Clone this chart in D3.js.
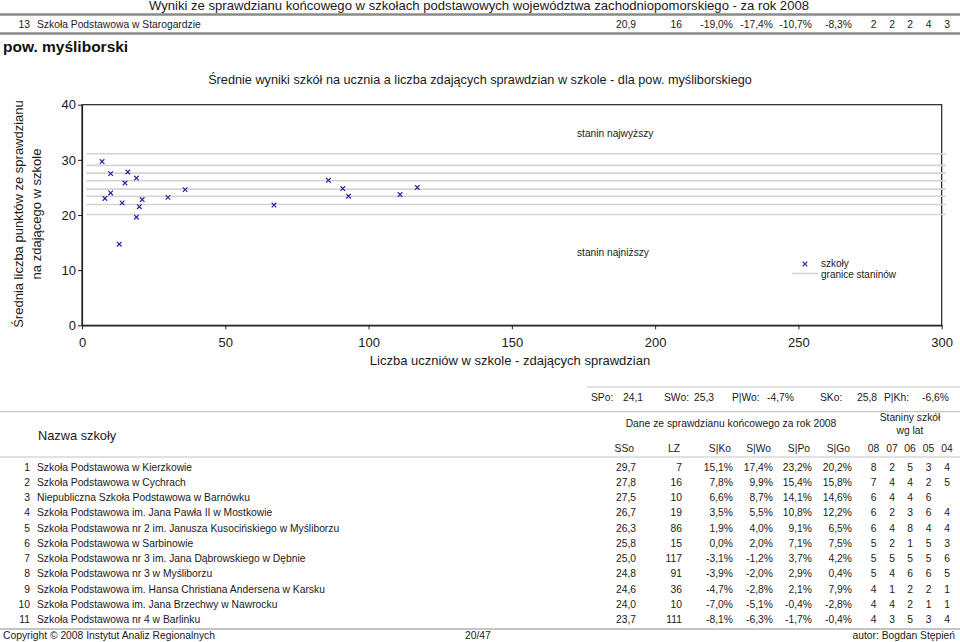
<!DOCTYPE html>
<html>
<head>
<meta charset="utf-8">
<script src="https://cdn.jsdelivr.net/npm/d3@7"></script>
<style>
  html, body { margin: 0; padding: 0; background: #fff; }
  svg { display: block; font-family: "Liberation Sans", Arial, Helvetica, sans-serif; }
</style>
</head>
<body>
<svg id="chart" width="960" height="642"></svg>
<script>
// ---------- data ----------
const pageTitle = "Wyniki ze sprawdzianu końcowego w szkołach podstawowych województwa zachodniopomorskiego - za rok 2008";
const prevRow = { nr: 13, name: "Szkoła Podstawowa w Starogardzie", sso: 20.9, lz: 16, sko: -19.0, swo: -17.4, spo: -10.7, sgo: -8.3, stan: [2, 2, 2, 4, 3] };
const countyName = "pow. myśliborski";
const chartTitle = "Średnie wyniki szkół na ucznia a liczba zdających sprawdzian w szkole - dla pow. myśliborskiego";
const xTitle = "Liczba uczniów w szkole - zdających sprawdzian";
const yTitleLines = ["Średnia liczba punktów ze sprawdzianu", "na zdającego w szkole"];
const xTicks = [0, 50, 100, 150, 200, 250, 300];
const yTicks = [0, 10, 20, 30, 40];

// scatter: number of pupils (x) and mean score (y) of each school of the county
const pointsX = [7, 16, 10, 19, 86, 15, 117, 91, 36, 10, 111, 30, 93, 8, 21, 14, 67, 20, 19, 13];
const pointsY = [29.7, 27.8, 27.5, 26.7, 26.3, 25.8, 25.0, 24.8, 24.6, 24.0, 23.7, 23.2, 23.4, 23.0, 22.8, 22.2, 21.8, 21.5, 19.6, 14.7];
// stanine borders
const stanineBorders = [20.1, 21.9, 23.4, 24.7, 26.2, 27.6, 29.0, 31.1];
const legendLabels = ["szkoły", "granice staninów"];
const stanineLabels = ["stanin najwyższy", "stanin najniższy"];

// summary row
const summaryLabels = ["SPo:", "SWo:", "P|Wo:", "SKo:", "P|Kh:"];
const summaryValues = ["24,1", "25,3", "-4,7%", "25,8", "-6,6%"];

// table
const colHeaders = ["SSo", "LZ", "S|Ko", "S|Wo", "S|Po", "S|Go"];
const yearHeaders = ["08", "07", "06", "05", "04"];
const schoolNames = [
  "Szkoła Podstawowa w Kierzkowie",
  "Szkoła Podstawowa w Cychrach",
  "Niepubliczna Szkoła Podstawowa w Barnówku",
  "Szkoła Podstawowa im. Jana Pawła II w Mostkowie",
  "Szkoła Podstawowa nr 2 im. Janusza Kusocińskiego w Myśliborzu",
  "Szkoła Podstawowa w Sarbinowie",
  "Szkoła Podstawowa nr 3 im. Jana Dąbrowskiego w Dębnie",
  "Szkoła Podstawowa nr 3 w Myśliborzu",
  "Szkoła Podstawowa im. Hansa Christiana Andersena w Karsku",
  "Szkoła Podstawowa im. Jana Brzechwy w Nawrocku",
  "Szkoła Podstawowa nr 4 w Barlinku"
];
const sso = [29.7, 27.8, 27.5, 26.7, 26.3, 25.8, 25.0, 24.8, 24.6, 24.0, 23.7];
const lz = [7, 16, 10, 19, 86, 15, 117, 91, 36, 10, 111];
const sko = [15.1, 7.8, 6.6, 3.5, 1.9, 0.0, -3.1, -3.9, -4.7, -7.0, -8.1];
const swo = [17.4, 9.9, 8.7, 5.5, 4.0, 2.0, -1.2, -2.0, -2.8, -5.1, -6.3];
const spo = [23.2, 15.4, 14.1, 10.8, 9.1, 7.1, 3.7, 2.9, 2.1, -0.4, -1.7];
const sgo = [20.2, 15.8, 14.6, 12.2, 6.5, 7.5, 4.2, 0.4, 7.9, -2.8, -0.4];
const staniny = [
  [8, 2, 5, 3, 4], [7, 4, 4, 2, 5], [6, 4, 4, 6, null], [6, 2, 3, 6, 4], [6, 4, 8, 4, 4],
  [5, 2, 1, 5, 3], [5, 5, 5, 5, 6], [5, 4, 6, 6, 5], [4, 1, 2, 2, 1], [4, 4, 2, 1, 1], [4, 3, 5, 3, 4]
];
const footerLeft = "Copyright © 2008 Instytut Analiz Regionalnych";
const footerMid = "20/47";
const footerRight = "autor: Bogdan Stępień";

// ---------- helpers ----------
const f1 = v => d3.format(".1f")(v).replace(".", ",").replace("−", "-");
const fp = v => f1(v) + "%";
const textCol = "#1a1a1a";
const tfs = 10.3; // table font size

const svg = d3.select("#chart");

// ---------- page header ----------
svg.append("text").attr("x", 479).attr("y", 10).attr("text-anchor", "middle")
  .attr("font-size", 13.1).attr("fill", textCol).text(pageTitle);
svg.append("line").attr("x1", 0).attr("x2", 960).attr("y1", 14.5).attr("y2", 14.5)
  .attr("stroke", "#8a8a8a").attr("stroke-width", 2.5);
svg.append("line").attr("x1", 0).attr("x2", 960).attr("y1", 33.5).attr("y2", 33.5)
  .attr("stroke", "#8a8a8a").attr("stroke-width", 2.5);

// columns (right edges for numbers, centers for staniny)
const colX = [636, 682, 733, 773, 812, 852];
const stanX = [873.5, 892, 910, 928.5, 947];

function drawRow(g, y, nr, name, vals, stan) {
  g.append("text").attr("x", 30).attr("y", y).attr("text-anchor", "end").text(nr);
  g.append("text").attr("x", 37).attr("y", y).text(name);
  vals.forEach((v, i) => g.append("text").attr("x", colX[i]).attr("y", y).attr("text-anchor", "end").text(v));
  stan.forEach((s, i) => { if (s != null) g.append("text").attr("x", stanX[i]).attr("y", y).attr("text-anchor", "middle").text(s); });
}

const topRow = svg.append("g").attr("font-size", tfs).attr("fill", textCol);
drawRow(topRow, 28, prevRow.nr, prevRow.name,
  [f1(prevRow.sso), prevRow.lz, fp(prevRow.sko), fp(prevRow.swo), fp(prevRow.spo), fp(prevRow.sgo)], prevRow.stan);

svg.append("text").attr("x", 3).attr("y", 52).attr("font-size", 15.5).attr("font-weight", "bold")
  .attr("fill", "#111").text(countyName);

// ---------- chart ----------
svg.append("text").attr("x", 480).attr("y", 84).attr("text-anchor", "middle")
  .attr("font-size", 12.7).attr("fill", textCol).text(chartTitle);

const x = d3.scaleLinear().domain([0, 300]).range([82, 941.7]);
const y = d3.scaleLinear().domain([0, 40]).range([325.3, 104.7]);

const plot = svg.append("g");
// frame
plot.append("rect").attr("x", x(0)).attr("y", y(40)).attr("width", x(300) - x(0)).attr("height", y(0) - y(40))
  .attr("fill", "none").attr("stroke", "#222").attr("stroke-width", 1.2);

// stanine borders
plot.selectAll("line.stan").data(stanineBorders).enter().append("line")
  .attr("class", "stan").attr("x1", x(1.5)).attr("x2", x(301.5))
  .attr("y1", d => y(d)).attr("y2", d => y(d))
  .attr("stroke", "#d4d4d4").attr("stroke-width", 1.6);

// axes
const xAxis = svg.append("g").attr("transform", `translate(0,${y(0)})`)
  .call(d3.axisBottom(x).tickValues(xTicks).tickSize(4).tickPadding(8).tickSizeOuter(0));
const yAxis = svg.append("g").attr("transform", `translate(${x(0)},0)`)
  .call(d3.axisLeft(y).tickValues(yTicks).tickSize(4).tickPadding(2).tickSizeOuter(0));
[xAxis, yAxis].forEach(a => {
  a.select(".domain").attr("stroke", "#222").attr("stroke-width", 1.2);
  a.selectAll(".tick line").attr("stroke", "#222");
  a.selectAll("text").attr("font-size", 13).attr("fill", textCol)
    .attr("font-family", "Liberation Sans, Arial, sans-serif");
});

// axis titles
svg.append("text").attr("x", 510).attr("y", 365).attr("text-anchor", "middle")
  .attr("font-size", 13).attr("fill", textCol).text(xTitle);
yTitleLines.forEach((t, i) => {
  svg.append("text").attr("transform", `translate(${23 + i * 17.5},214) rotate(-90)`)
    .attr("text-anchor", "middle").attr("font-size", 13).attr("fill", textCol).text(t);
});

// points
const mark = (g, cx, cy, r) => g.append("path")
  .attr("d", `M${cx - r},${cy - r}L${cx + r},${cy + r}M${cx - r},${cy + r}L${cx + r},${cy - r}`)
  .attr("stroke", "#2424a8").attr("stroke-width", 1.2).attr("fill", "none");
pointsX.forEach((px, i) => mark(plot, x(px), y(pointsY[i]), 2.3));

// stanine labels
svg.append("text").attr("x", 577).attr("y", 137).attr("font-size", 10.2).attr("fill", textCol).text(stanineLabels[0]);
svg.append("text").attr("x", 577).attr("y", 256).attr("font-size", 10.2).attr("fill", textCol).text(stanineLabels[1]);

// legend
mark(svg, 805, 264, 2.3);
svg.append("text").attr("x", 821).attr("y", 267).attr("font-size", 10).attr("fill", textCol).text(legendLabels[0]);
svg.append("line").attr("x1", 792).attr("x2", 818).attr("y1", 273.5).attr("y2", 273.5)
  .attr("stroke", "#d4d4d4").attr("stroke-width", 1.6);
svg.append("text").attr("x", 821).attr("y", 277.5).attr("font-size", 10).attr("fill", textCol).text(legendLabels[1]);

// ---------- summary row ----------
svg.append("line").attr("x1", 587).attr("x2", 960).attr("y1", 387).attr("y2", 387)
  .attr("stroke", "#c4c4c4").attr("stroke-width", 1.2);
const sumLabelX = [591, 664, 732, 820, 884];
const sumValX = [623, 694, 767, 857, 922];
const sumG = svg.append("g").attr("font-size", tfs).attr("fill", textCol);
summaryLabels.forEach((l, i) => {
  sumG.append("text").attr("x", sumLabelX[i]).attr("y", 401).text(l);
  sumG.append("text").attr("x", sumValX[i]).attr("y", 401).text(summaryValues[i]);
});

// ---------- table ----------
[411.7, 457].forEach(yy => svg.append("line").attr("x1", 0).attr("x2", 960).attr("y1", yy).attr("y2", yy)
  .attr("stroke", "#c4c4c4").attr("stroke-width", 1.2));
svg.append("line").attr("x1", 0).attr("x2", 960).attr("y1", 629).attr("y2", 629)
  .attr("stroke", "#b0b0b0").attr("stroke-width", 1.4);

const head = svg.append("g").attr("fill", textCol);
head.append("text").attr("x", 38).attr("y", 440).attr("font-size", 12.8).text("Nazwa szkoły");
head.append("text").attr("x", 731).attr("y", 427).attr("font-size", tfs).attr("text-anchor", "middle")
  .text("Dane ze sprawdzianu końcowego za rok 2008");
head.append("text").attr("x", 910).attr("y", 421).attr("font-size", tfs).attr("text-anchor", "middle").text("Staniny szkół");
head.append("text").attr("x", 910).attr("y", 434).attr("font-size", tfs).attr("text-anchor", "middle").text("wg lat");
colHeaders.forEach((h, i) => head.append("text").attr("x", colX[i] - 2).attr("y", 452).attr("font-size", tfs)
  .attr("text-anchor", "end").text(h));
yearHeaders.forEach((h, i) => head.append("text").attr("x", stanX[i]).attr("y", 452).attr("font-size", tfs)
  .attr("text-anchor", "middle").text(h));

const rowY = d3.scaleLinear().domain([0, 10]).range([470.5, 623]);
const body = svg.append("g").attr("font-size", tfs).attr("fill", textCol);
schoolNames.forEach((n, i) => {
  drawRow(body, rowY(i), i + 1, n, [f1(sso[i]), lz[i], fp(sko[i]), fp(swo[i]), fp(spo[i]), fp(sgo[i])], staniny[i]);
});

// ---------- footer ----------
const foot = svg.append("g").attr("font-size", tfs).attr("fill", textCol);
foot.append("text").attr("x", 3).attr("y", 638.5).text(footerLeft);
foot.append("text").attr("x", 465).attr("y", 638.5).text(footerMid);
foot.append("text").attr("x", 955).attr("y", 638.5).attr("text-anchor", "end").text(footerRight);
</script>
</body>
</html>
